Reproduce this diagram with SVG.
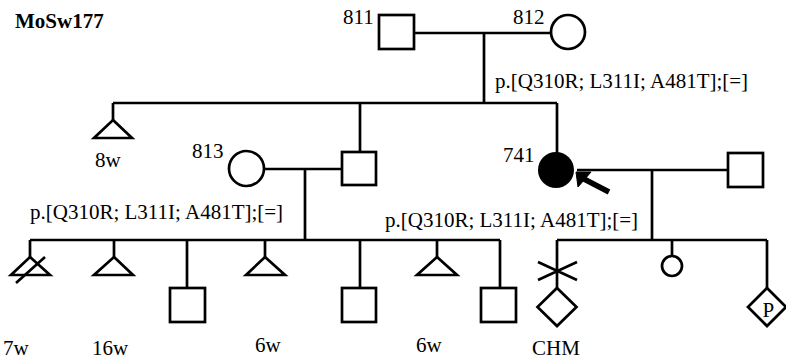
<svg xmlns="http://www.w3.org/2000/svg" width="786" height="359" viewBox="0 0 786 359">
<style>
.s{fill:#fff;stroke:#000;stroke-width:2.7}
.l{fill:none;stroke:#000;stroke-width:2.7}
text{font-family:"Liberation Serif","Times New Roman",serif;font-size:21px;fill:#000}
.b{font-weight:bold}
</style>
<rect width="786" height="359" fill="#fff"/>
<text class="b" x="15" y="28">MoSw177</text>
<g id="connectors" class="l">
<path d="M414 33H551M484 33V103M113 103H557M113 103V120M360 103V152M557 103V153"/>
<path d="M264 169H342M305 169V240M30 240H500M30 240V257M114 240V257M187 240V288M265 240V257M360 240V288M437 240V257M500 240V288"/>
<path d="M577 170H728M652 170V240M557 240H767M557 240V288M672 240V256M767 240V288"/>
</g>
<g id="n811"><rect class="s" x="379" y="15" width="35" height="34"/><text x="343" y="24">811</text></g>
<g id="n812"><circle class="s" cx="568" cy="32" r="17"/><text x="513" y="24">812</text></g>
<text x="495" y="88">p.[Q310R; L311I; A481T];[=]</text>
<g id="n8w"><path class="s" d="M113 120L132 138H94Z"/><text x="95" y="167">8w</text></g>
<g id="n813"><circle class="s" cx="246.5" cy="168.5" r="17.5"/><text x="192" y="158">813</text></g>
<g id="nson"><rect class="s" x="342" y="152" width="34" height="33"/></g>
<g id="n741"><circle cx="556" cy="170" r="18" fill="#000"/><text x="503" y="162">741</text>
<path d="M576 172L591 172L578 187Z" fill="#000" stroke="#000" stroke-width="1"/>
<path d="M582 178L609 192" stroke="#000" stroke-width="5.5"/></g>
<g id="nspouse"><rect class="s" x="728" y="153" width="35" height="34"/></g>
<text x="30" y="219">p.[Q310R; L311I; A481T];[=]</text>
<text x="385" y="227">p.[Q310R; L311I; A481T];[=]</text>
<g id="c1"><path class="s" d="M30 257L50 275H11Z"/><path class="l" d="M16 283L45 257"/><text x="3" y="355">7w</text></g>
<g id="c2"><path class="s" d="M114 257L133 275H94Z"/><text x="92" y="355">16w</text></g>
<g id="c3"><rect class="s" x="170" y="288" width="35" height="34"/></g>
<g id="c4"><path class="s" d="M265 257L285 275H246Z"/><text x="255" y="352">6w</text></g>
<g id="c5"><rect class="s" x="342" y="288" width="34" height="34"/></g>
<g id="c6"><path class="s" d="M437 257L457 275H417Z"/><text x="416" y="352">6w</text></g>
<g id="c7"><rect class="s" x="481" y="288" width="35" height="34"/></g>
<g id="g1"><path class="l" d="M538 262L577 280M538 280L577 262"/><path class="s" d="M557 288L576.5 307L557 326L537.5 307Z"/><text x="532" y="355">CHM</text></g>
<g id="g2"><circle class="s" cx="672" cy="266" r="10"/></g>
<g id="g3"><path class="s" d="M767 288L786 307L767 326L748 307Z"/><text x="762.5" y="317" font-size="22">P</text></g>
</svg>
